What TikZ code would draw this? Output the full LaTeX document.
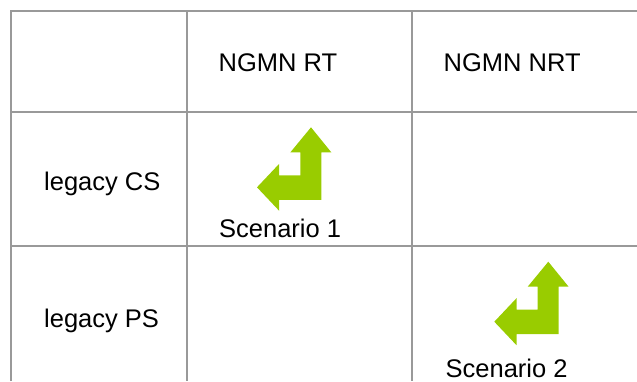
\documentclass[tikz,border=0pt]{standalone}
\usepackage{fontspec}
\setmainfont{Liberation Sans}
\definecolor{gridgray}{RGB}{153,153,153}
\definecolor{arrowgreen}{RGB}{153,204,0}
\begin{document}
\begin{tikzpicture}[x=1pt,y=-1pt,
  gridline/.style={draw=gridgray,line width=2pt},
  celltext/.style={anchor=base west,inner sep=0pt,font=\fontsize{25.5}{30}\selectfont},
  bentarrow/.pic={\fill[arrowgreen] (0,0) -- (20.3,25) -- (10.3,25) -- (10.3,72.5) -- (-31.8,72.5) -- (-31.8,83.5) -- (-54,60) -- (-31.8,36.5) -- (-31.8,48) -- (-10.6,48) -- (-10.6,25) -- (-20.6,25) -- cycle;}]
\useasboundingbox (0,0) rectangle (637,381);
% grid
\draw[gridline] (11,381) -- (11,11) -- (637,11);
\draw[gridline] (187,11) -- (187,381);
\draw[gridline] (412,11) -- (412,381);
\draw[gridline] (11,112) -- (637,112);
\draw[gridline] (11,246) -- (637,246);
% headers
\node[celltext] (rt) at (218.5,71.7) {NGMN RT};
\node[celltext] (nrt) at (443.5,71.7) {NGMN NRT};
\node[celltext] (cs) at (44,190) {legacy CS};
\node[celltext] (ps) at (44,327.7) {legacy PS};
% arrows
\pic at (311,127.3) {bentarrow};
\pic at (548.3,261.7) {bentarrow};
\node[celltext] (s1) at (219,237.3) {Scenario 1};
\node[celltext,text depth=0pt] (s2) at (445.5,377.5) {Scenario 2};
\end{tikzpicture}
\end{document}
